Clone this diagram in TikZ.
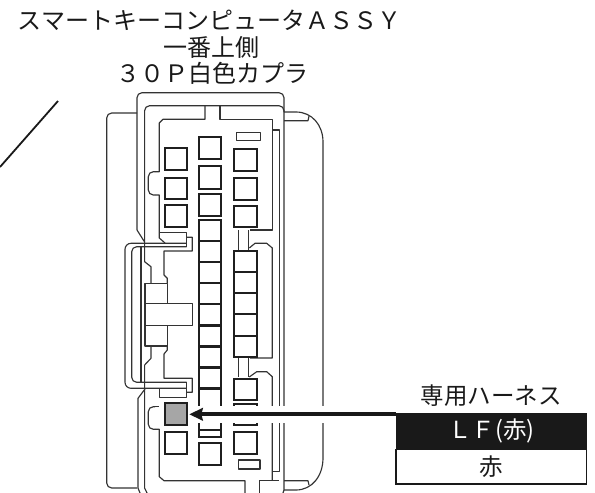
\documentclass[tikz,border=0pt]{standalone}
\usepackage{fontspec}
\setmainfont{Noto Sans CJK JP}
\usetikzlibrary{arrows.meta}
\tikzset{
  thin line/.style={draw=black!80,line width=1.15pt,line join=round},
  term/.style={draw=black!88,line width=2.2pt,fill=white},
  lbl/.style={font=\fontsize{24}{26}\selectfont,inner sep=0pt,text=black!90},
  boxfont/.style={font=\fontsize{23.5}{26}\selectfont},
}
\begin{document}
\begin{tikzpicture}[x=1pt,y=-1pt]
\useasboundingbox (0,0) rectangle (595,493);
\node[lbl] (t1) at (209.5,20.5) {スマートキーコンピュータＡＳＳＹ};
\node[lbl] (t2) at (211,47) {一番上側};
\node[lbl] (t3) at (212.5,73) {３０Ｐ白色カプラ};
\draw[line width=1.8pt,black!90] (58,101) -- (0,167);
% outer shell
\draw[thin line] (144.6,242) -- (137,230);
\draw[thin line,rounded corners=5pt] (137,230) -- (137,92.7) -- (284,92.7) -- (284,112);
\draw[thin line] (284,112) -- (284,490) -- (283,493);
\draw[thin line,rounded corners=5pt] (137,113) -- (106.7,113) -- (106.7,488) -- (137,488);
\draw[thin line] (145,389) -- (138,398.3) -- (138,488) -- (140,493);
\draw[thin line] (284,112) -- (296,112) .. controls (312,112) and (323,125) .. (323,142) -- (323,458) .. controls (323,476) and (312,490) .. (296,490) -- (284,490);
\draw[thin line] (284,120.7) -- (308,120.7) -- (309,116);
\draw[thin line] (284,480.7) -- (308,480.7) -- (309,485);
% inner shell
\draw[thin line,rounded corners=5pt] (144.6,243) -- (144.6,105.7) -- (284,105.7) -- (284,112);
\draw[thin line] (205,105.7) -- (205,119.3) -- (163,119.3) -- (159.3,123) -- (159.3,171.7) -- (155,171.7);
\draw[thin line,rounded corners=5pt] (155,171.7) -- (148.3,171.7) -- (148.3,195) -- (155,195);
\draw[thin line] (155,195) -- (159.3,195) -- (159.3,238) -- (165,243);
\draw[thin line] (220,105.7) -- (220,119.3) -- (272.3,119.3) -- (272.3,230) -- (250,230);
\draw[thin line] (272.3,130) -- (279.3,130) -- (279.3,471.7) -- (272.3,471.7);
\draw[thin line] (238.3,230) -- (238.3,250);
\draw[thin line] (248.3,230) -- (248.3,250);
\draw[thin line] (249.3,248) -- (255,243.3) -- (266.7,243.3) -- (272.3,248) -- (272.3,358) -- (250,358);
\draw[thin line] (238.3,358) -- (238.3,377);
\draw[thin line] (248.3,358) -- (248.3,377);
\draw[thin line] (249.3,377) -- (256.7,371.7) -- (266.7,371.7) -- (272.3,376.7) -- (272.3,480.7);
\draw[thin line] (144.6,365) -- (144.6,488) -- (147,493);
\draw[thin line] (159.5,388.3) -- (159.5,397.3) -- (186.7,397.3) -- (186.7,382.3);
\draw[thin line,rounded corners=5pt] (155,406.7) -- (148.3,406.7) -- (148.3,429.3) -- (155,429.3);
\draw[thin line] (155,406.7) -- (159.3,406.7);
\draw[thin line] (155,429.3) -- (159.3,429.3) -- (159.3,476.7) -- (164,480.7) -- (245,480.7) -- (245,493);
\draw[thin line] (259.3,493) -- (259.3,480.7) -- (279.3,480.7);
% latch
\draw[thin line,rounded corners=6pt] (186.7,243.3) -- (125,243.3) -- (125,388.3) -- (186.7,388.3);
\draw[thin line,rounded corners=5pt] (186.7,246.7) -- (131.7,246.7) -- (131.7,382.3) -- (186.7,382.3);
\draw[thin line] (141,246.7) -- (141,382.3);
\draw[thin line] (159.3,232.3) -- (186.7,232.3) -- (186.7,246.7);
\draw[thin line] (186.7,237.3) -- (192.3,237.3) -- (192.3,251) -- (164,251) -- (164,275) -- (167.3,278.3) -- (167.3,283.3);
\draw[thin line] (144.6,243) -- (144.6,261.7) -- (151,266.7) -- (151,283.3);
\draw[thin line] (145,283.3) rectangle (167.3,346);
\draw[thin line,fill=white] (145,303.3) rectangle (192.3,325.7);
\draw[thin line] (151,346) -- (151,358.3) -- (144.6,365);
\draw[thin line] (167.3,346) -- (167.3,350) -- (164,354) -- (164,378.3) -- (192.3,378.3) -- (192.3,392.3) -- (186.7,392.3);
% terminals column 1
\draw[term] (164.7,148) rectangle (187,170);
\draw[term] (164.7,177.7) rectangle (187,199.3);
\draw[term] (164.7,205.3) rectangle (187,227);
\node[term,fill=black!35,minimum width=22.3pt,minimum height=22pt,inner sep=0pt] (gray) at (175.85,414.3) {};
\draw[term] (164.7,432) rectangle (187,453.7);
% column 2
\draw[term] (199,137) rectangle (221.3,159.3);
\draw[term] (199,166.3) rectangle (221.3,188.7);
\draw[term] (199,194.3) rectangle (221.3,216.3);
\foreach \y in {220,241,262,283,304,325.5,346.5,367.5,388.5,409.5}
  \draw[term] (199,\y) rectangle (221.3,\y+21);
\draw[term] (199,430.5) -- (199,436.7) -- (221.3,436.7) -- (221.3,430.5);
\draw[term] (199,443.3) rectangle (221.3,465);
% column 3
\draw[thin line] (236.7,132.7) rectangle (260.3,140.7);
\draw[term] (234.3,148.7) rectangle (256.7,170.7);
\draw[term] (234.3,177.7) rectangle (256.7,200);
\draw[term] (234.3,205.7) rectangle (256.7,227.3);
\foreach \y in {250.7,272,293.3,314.3,335.7}
  \draw[term] (234.3,\y) rectangle (256.7,\y+21.3);
\draw[term] (234.3,379) rectangle (256.7,400);
\draw[term] (234.3,404) rectangle (256.7,425.3);
\draw[term] (234.3,432) rectangle (256.7,453.7);
\draw[thin line] (238.3,460) rectangle (260,469);
% label box
\node[boxfont,fill=black!90,text=white,draw=black!90,line width=0.8pt,minimum width=190.7pt,minimum height=36pt,inner sep=0pt] (lf) at (491.3,431.3) {ＬＦ(赤)};
\node[boxfont,fill=white,draw=black!90,line width=1.2pt,minimum width=190.7pt,minimum height=34.7pt,inner sep=0pt,text=black!90] (aka) at (491.3,466.7) {赤};
\node[lbl,boxfont] (head) at (491,396) {専用ハーネス};
% arrow
\coordinate (tip) at (189.3,414.3);
\coordinate (tail) at (396,414.3);
\draw[white,line width=17.6pt] (193,414.3) -- (tail);
\draw[line width=3.8pt,black!90,-{Stealth[length=13.5pt,width=12.5pt,inset=1.5pt]}] (tail) -- (tip);
\end{tikzpicture}
\end{document}
